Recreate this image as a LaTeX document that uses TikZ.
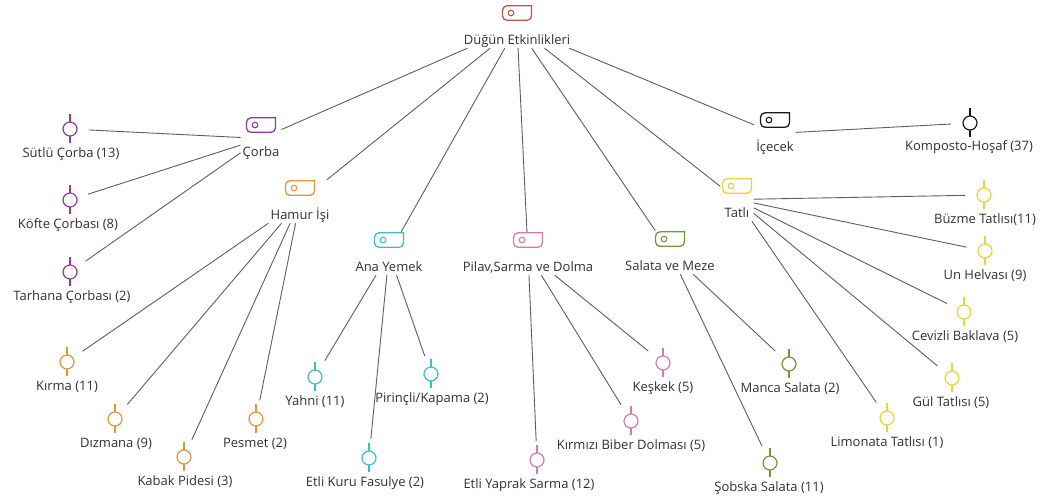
\documentclass[tikz,border=0pt]{standalone}
\usepackage{fontspec}
\setmainfont{Open Sans}
\usetikzlibrary{positioning}
\definecolor{rootc}{HTML}{C0564A}
\definecolor{purp}{HTML}{8E3A9E}
\definecolor{orng}{HTML}{E0953A}
\definecolor{teal}{HTML}{3DBDC4}
\definecolor{pink}{HTML}{CC7FAE}
\definecolor{gren}{HTML}{6F9A3A}
\definecolor{yelw}{HTML}{E6D43A}
\definecolor{blk}{HTML}{1A1A1A}
\definecolor{tiec}{HTML}{5E5E5E}
\tikzset{
  txt/.style={text=blk!90, font=\fontsize{13}{15}\selectfont},
  cnode/.style={txt, anchor=base, inner xsep=2pt, inner ysep=1pt, text height=38pt, text depth=3pt, minimum width=33pt},
  leaf/.style={circle, draw=#1, line width=1.2pt, minimum size=14pt, inner sep=0pt, outer sep=12pt},
  lbl/.style={txt, inner sep=1pt},
  tie/.style={draw=tiec, line width=0.9pt},
}
\begin{document}
\begin{tikzpicture}[x=1pt,y=-1pt]
\useasboundingbox (0,0) rectangle (1046,501);
\node[cnode] (root) at (517,44) {Düğün Etkinlikleri};
\node[cnode] (corba) at (261,156) {Çorba};
\node[cnode] (hamur) at (300,219) {Hamur İşi};
\node[cnode] (ana) at (389,271) {Ana Yemek};
\node[cnode] (pilav) at (528,271) {Pilav,Sarma ve Dolma};
\node[cnode] (salata) at (670,270) {Salata ve Meze};
\node[cnode] (tatli) at (737,217) {Tatlı};
\node[cnode] (icecek) at (775,151) {İçecek};
\foreach \n/\c in {root/rootc, corba/purp, hamur/orng, ana/teal, pilav/pink, salata/gren, tatli/yelw, icecek/blk}{
  \draw[\c, line width=1.3pt] ([xshift=14.5pt,yshift=-1pt]\n.north) [rounded corners=4.5pt] -- ++(-29,0) -- ++(0,14.5) -- ++(29,0) [sharp corners] -- cycle;
  \draw[\c, line width=1.1pt] ([xshift=-6pt,yshift=-8.25pt]\n.north) circle (2.8pt);
}
\node[leaf=purp] (sutlu) at (70,129) {};
\node[leaf=purp] (kofte) at (70,200) {};
\node[leaf=purp] (tarhana) at (70,272) {};
\node[leaf=orng] (kirma) at (67,362) {};
\node[leaf=orng] (dizmana) at (115,419) {};
\node[leaf=orng] (kabak) at (184,457) {};
\node[leaf=orng] (pesmet) at (256,419) {};
\node[leaf=teal] (yahni) at (315,377) {};
\node[leaf=teal] (pirincli) at (431,374) {};
\node[leaf=teal] (fasulye) at (369,458) {};
\node[leaf=pink] (yaprak) at (537,460) {};
\node[leaf=pink] (biber) at (631,421) {};
\node[leaf=pink] (keskek) at (663,363) {};
\node[leaf=gren] (sobska) at (770,463) {};
\node[leaf=gren] (manca) at (789,364) {};
\node[leaf=yelw] (buzme) at (984,195) {};
\node[leaf=yelw] (un) at (985,251) {};
\node[leaf=yelw] (cevizli) at (964,312) {};
\node[leaf=yelw] (gul) at (952,378) {};
\node[leaf=yelw] (limonata) at (887,418) {};
\node[leaf=blk] (komposto) at (970,123) {};
\foreach \n/\c in {sutlu/purp, kofte/purp, tarhana/purp, kirma/orng, dizmana/orng, kabak/orng, pesmet/orng, yahni/teal, pirincli/teal, fasulye/teal, yaprak/pink, biber/pink, keskek/pink, sobska/gren, manca/gren, buzme/yelw, un/yelw, cevizli/yelw, gul/yelw, limonata/yelw, komposto/blk}
  \draw[\c, line width=1.2pt] (\n.center) ++(0,-7) -- ++(0,-8) (\n.center) ++(0,7) -- ++(0,6.5);
\node[lbl] (sutluL) at (71,154) {Sütlü Çorba (13)};
\node[lbl] (kofteL) at (68,225) {Köfte Çorbası (8)};
\node[lbl] (tarhanaL) at (72,297) {Tarhana Çorbası (2)};
\node[lbl] (kirmaL) at (67,387) {Kırma (11)};
\node[lbl] (dizmanaL) at (116,444) {Dızmana (9)};
\node[lbl] (kabakL) at (185,482) {Kabak Pidesi (3)};
\node[lbl] (pesmetL) at (255,444) {Pesmet (2)};
\node[lbl] (yahniL) at (315,402) {Yahni (11)};
\node[lbl] (pirincliL) at (432,399) {Pirinçli/Kapama (2)};
\node[lbl] (fasulyeL) at (365,483) {Etli Kuru Fasulye (2)};
\node[lbl] (yaprakL) at (529,485) {Etli Yaprak Sarma (12)};
\node[lbl] (biberL) at (631,446) {Kırmızı Biber Dolması (5)};
\node[lbl] (keskekL) at (663,388) {Keşkek (5)};
\node[lbl] (sobskaL) at (769,488) {Şobska Salata (11)};
\node[lbl] (mancaL) at (790,389) {Manca Salata (2)};
\node[lbl] (buzmeL) at (985,220) {Büzme Tatlısı(11)};
\node[lbl] (unL) at (985,276) {Un Helvası (9)};
\node[lbl] (cevizliL) at (965,337) {Cevizli Baklava (5)};
\node[lbl] (gulL) at (951,403) {Gül Tatlısı (5)};
\node[lbl] (limonataL) at (887,443) {Limonata Tatlısı (1)};
\node[lbl] (kompostoL) at (969,147) {Komposto-Hoşaf (37)};
\foreach \a/\b in {root/corba, root/hamur, root/ana, root/pilav, root/salata, root/tatli, root/icecek,
  corba/sutlu, corba/kofte, corba/tarhana, hamur/kirma, hamur/dizmana, hamur/kabak, hamur/pesmet,
  ana/yahni, ana/fasulye, ana/pirincli, pilav/yaprak, pilav/biber, pilav/keskek, salata/sobska, salata/manca,
  tatli/buzme, tatli/un, tatli/cevizli, tatli/gul, tatli/limonata, icecek/komposto}
  \draw[tie] (\a) -- (\b);
\end{tikzpicture}
\end{document}
